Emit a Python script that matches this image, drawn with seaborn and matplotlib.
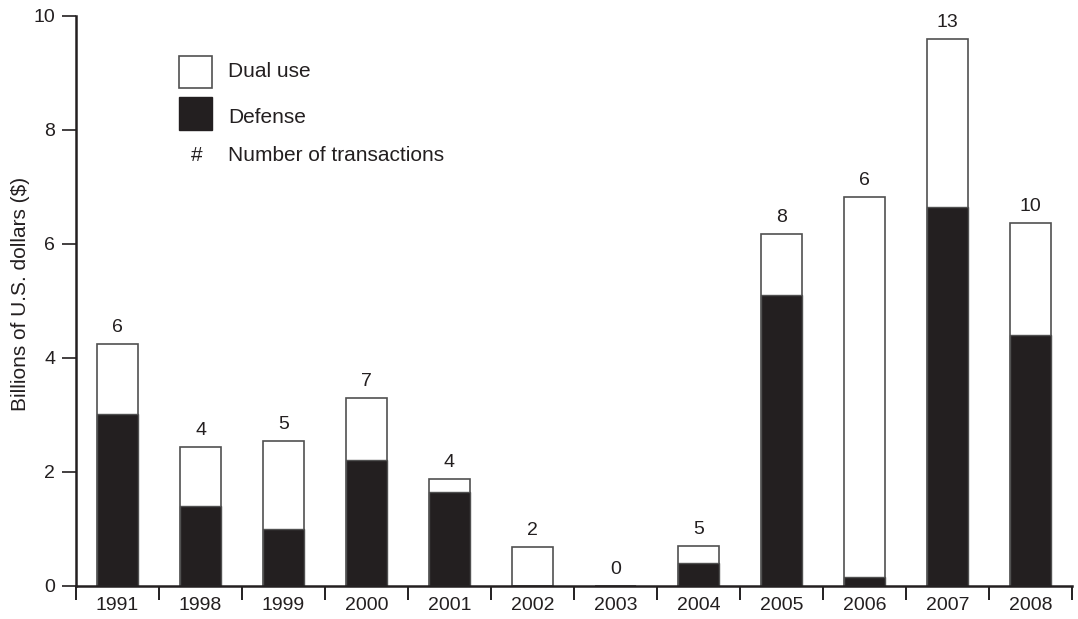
import matplotlib
matplotlib.use("Agg")
import matplotlib.pyplot as plt
from matplotlib.patches import Rectangle
import pandas as pd
import seaborn as sns

# values (billions of US dollars)
years = ["1991", "1998", "1999", "2000", "2001", "2002",
         "2003", "2004", "2005", "2006", "2007", "2008"]
totals = [4.25, 2.44, 2.54, 3.30, 1.88, 0.68, 0.0, 0.70, 6.18, 6.82, 9.60, 6.37]
defense = [3.02, 1.40, 1.00, 2.21, 1.65, 0.0, 0.0, 0.40, 5.10, 0.15, 6.65, 4.40]
transactions = [6, 4, 5, 7, 4, 2, 0, 5, 8, 6, 13, 10]

df = pd.DataFrame({"year": years, "total": totals, "defense": defense,
                   "n": transactions})

dark = "#231f20"
edge = "#505050"

sns.set_style("ticks")
plt.rcParams["font.family"] = ["Liberation Sans", "DejaVu Sans"]
plt.rcParams["font.size"] = 14

fig = plt.figure(figsize=(10.78, 6.19), dpi=100)
ax = fig.add_axes([76 / 1078, 1 - 586 / 619, 996 / 1078, 570 / 619])

# white (dual use) part drawn as full stack, defense on top of it
sns.barplot(data=df, x="year", y="total", color="white", edgecolor=edge,
            linewidth=1.2, width=0.5, saturation=1, ax=ax)
sns.barplot(data=df, x="year", y="defense", color=dark, edgecolor=edge,
            linewidth=1.0, width=0.5, saturation=1, ax=ax)

# number of transactions above each bar
for i, row in df.iterrows():
    ax.annotate(str(row["n"]), (i, row["total"]), xytext=(0, 12),
                textcoords="offset points", ha="center", va="center",
                color=dark)

ax.set_xlim(-0.5, 11.5)
ax.set_ylim(0, 10)
ax.set_yticks([0, 2, 4, 6, 8, 10])
ax.set_xlabel("")
ax.set_ylabel("Billions of U.S. dollars ($)", color=dark, fontsize=15)
ax.yaxis.set_label_coords(-0.046, 0.512)

# category boundaries as tick marks, labels without ticks
ax.set_xticks([x - 0.5 for x in range(13)], minor=True)
ax.tick_params(axis="x", which="major", length=0, pad=8, colors=dark)
ax.tick_params(axis="x", which="minor", length=10, width=1.4,
               direction="out", color=dark)
ax.tick_params(axis="y", length=10, width=1.2, pad=5, colors=dark)

for s in ["top", "right"]:
    ax.spines[s].set_visible(False)
for s in ["left", "bottom"]:
    ax.spines[s].set_linewidth(1.8)
    ax.spines[s].set_color(dark)

# legend drawn by hand like the original
ax.add_patch(Rectangle((0.1034, 0.8737), 0.0331, 0.0561, transform=ax.transAxes,
                       facecolor="white", edgecolor=edge, linewidth=1.2,
                       clip_on=False))
ax.add_patch(Rectangle((0.1034, 0.800), 0.0331, 0.0579, transform=ax.transAxes,
                       facecolor=dark, edgecolor=dark, linewidth=1.0,
                       clip_on=False))
ax.text(0.1215, 0.756, "#", transform=ax.transAxes, ha="center", va="center",
        color=dark, fontsize=15)
ax.text(0.1526, 0.9018, "Dual use", transform=ax.transAxes, va="center",
        color=dark, fontsize=15)
ax.text(0.1526, 0.8228, "Defense", transform=ax.transAxes, va="center",
        color=dark, fontsize=15)
ax.text(0.1526, 0.756, "Number of transactions", transform=ax.transAxes,
        va="center", color=dark, fontsize=15)

fig.savefig("out.png", dpi=100)
